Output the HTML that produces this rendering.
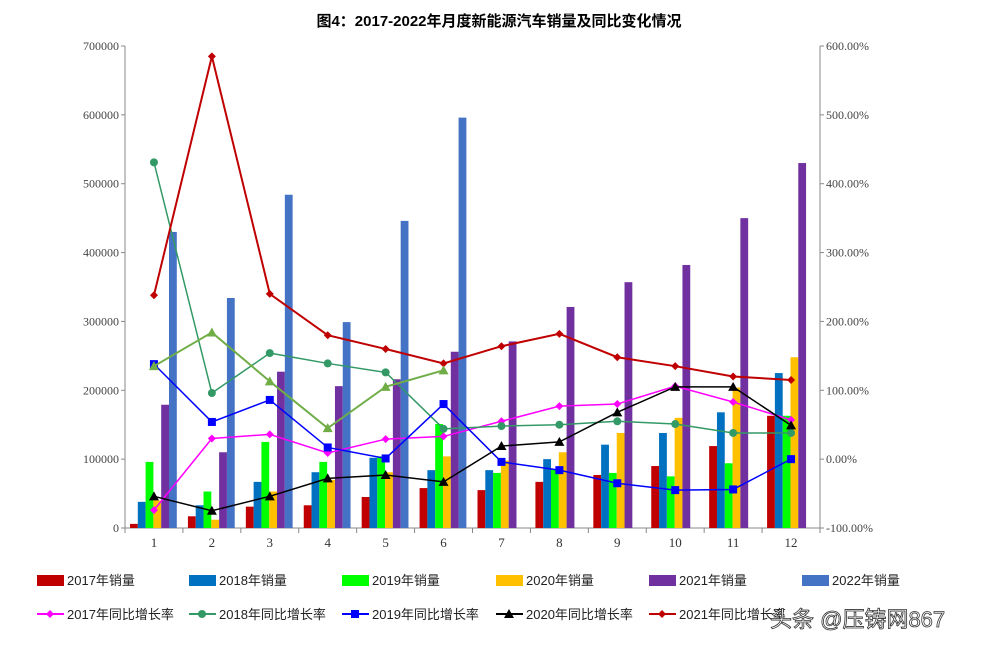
<!DOCTYPE html>
<html><head><meta charset="utf-8"><style>
body{margin:0;background:#fff;width:999px;height:650px;overflow:hidden;font-family:"Liberation Sans","Noto Sans CJK SC",sans-serif}
</style></head><body>
<svg id="c" width="999" height="650" xmlns="http://www.w3.org/2000/svg"></svg>
<script>
const months=[1,2,3,4,5,6,7,8,9,10,11,12];
const volYears=['2017年销量','2018年销量','2019年销量','2020年销量','2021年销量','2022年销量'];
const v2017=[6000,17000,31000,33000,45000,58000,55000,67000,77000,90000,119000,163000];
const v2018=[38000,33000,67000,81000,102000,84000,84000,100000,121000,138000,168000,225000];
const v2019=[96000,53000,125000,96000,104000,151000,80000,85000,80000,75000,94000,163000];
const v2020=[40000,12000,53000,70000,81000,104000,98000,110000,138000,160000,204000,248000];
const v2021=[179000,110000,227000,206000,216000,256000,271000,321000,357000,382000,450000,530000];
const v2022=[430000,334000,484000,299000,446000,596000];
const gNames=['2017年同比增长率','2018年同比增长率','2019年同比增长率','2020年同比增长率','2021年同比增长率'];
const g2017=[-74,30,36,9,29,33,55,77,80,106,83,57];
const g2018=[431,96,154,139,126,44,48,50,55,51,38,38];
const g2019=[138,54,86,17,1,80,-4,-16,-35,-45,-44,0];
const g2020=[-54,-75,-54,-28,-23,-33,19,25,68,105,105,49];
const g2021=[238,585,240,180,160,139,164,182,148,135,120,115];
const g2022=[135,184,113,45,105,129];
const leftTicks=[0,100000,200000,300000,400000,500000,600000,700000];
const rightTicks=[-100,0,100,200,300,400,500,600];

const svg=document.getElementById('c');const NS='http://www.w3.org/2000/svg';
function el(t,a,p){const e=document.createElementNS(NS,t);for(const k in a)e.setAttribute(k,a[k]);(p||svg).appendChild(e);return e;}
const X0=125,X1=820,Y0=528,Y1=46,cw=(X1-X0)/12;
const yL=v=>Y0-(v/700000)*(Y0-Y1);
const yR=p=>Y0-((p+100)/700)*(Y0-Y1);
const xC=i=>X0+cw*(i+0.5);

let t=el('text',{x:499,y:26,'text-anchor':'middle','font-size':15,'font-weight':'bold',fill:'#000'});t.textContent='图4：2017-2022年月度新能源汽车销量及同比变化情况';


el('line',{x1:X0,y1:Y1,x2:X0,y2:Y0,stroke:'#888'});
el('line',{x1:X1,y1:Y1,x2:X1,y2:Y0,stroke:'#888'});
el('line',{x1:X0,y1:Y0,x2:X1,y2:Y0,stroke:'#888'});
leftTicks.forEach(v=>{const y=yL(v);el('line',{x1:X0-4,y1:y,x2:X0,y2:y,stroke:'#888'});
 const tx=el('text',{x:X0-6,y:y+4,'text-anchor':'end','font-size':12,'font-family':'Liberation Serif, serif',fill:'#444'});tx.textContent=v;
 });
rightTicks.forEach(v=>{const y=yR(v);el('line',{x1:X1,y1:y,x2:X1+4,y2:y,stroke:'#888'});
 const tx=el('text',{x:X1+6,y:y+4,'font-size':12,'font-family':'Liberation Serif, serif',fill:'#444'});tx.textContent=v.toFixed(2)+'%';
 });
for(let i=0;i<=12;i++){const x=X0+cw*i;el('line',{x1:x,y1:Y0,x2:x,y2:Y0+5,stroke:'#888'});}
months.forEach((m,i)=>{const tx=el('text',{x:xC(i),y:Y0+19,'text-anchor':'middle','font-size':13,'font-family':'Liberation Serif, serif',fill:'#333'});tx.textContent=m;
 });

const vols=[v2017,v2018,v2019,v2020,v2021,v2022];
const vcol=['#c00000','#0070c0','#00ff00','#ffc000','#7030a0','#4472c4'];
const bw=7.8;
vols.forEach((arr,s)=>{arr.forEach((v,i)=>{const x=X0+cw*i+5+s*bw;
 const r=el('rect',{x:x,y:yL(v),width:bw,height:Y0-yL(v),fill:vcol[s]});
 });});

const gr=[g2017,g2018,g2019,g2020,g2021,g2022];
const gcol=['#ff00ff','#339966','#0000ff','#000000','#c00000','#70ad47'];
const gw=[1.5,1.5,1.5,1.5,2,2];
function marker(k,x,y,c){
 if(k==0)return el('path',{d:`M${x} ${y-4}L${x+4} ${y}L${x} ${y+4}L${x-4} ${y}Z`,fill:c});
 if(k==1)return el('circle',{cx:x,cy:y,r:4,fill:c});
 if(k==2)return el('rect',{x:x-4,y:y-4,width:8,height:8,fill:c});
 if(k==3||k==5)return el('path',{d:`M${x} ${y-5}L${x+5} ${y+4}L${x-5} ${y+4}Z`,fill:c});
 return el('path',{d:`M${x} ${y-4}L${x+4} ${y}L${x} ${y+4}L${x-4} ${y}Z`,fill:c});
}
gr.forEach((arr,s)=>{const pts=arr.map((v,i)=>xC(i)+','+yR(v)).join(' ');
 const l=el('polyline',{points:pts,fill:'none',stroke:gcol[s],'stroke-width':gw[s]});
 
 arr.forEach((v,i)=>{const m=marker(s,xC(i),yR(v),gcol[s]);
  });});

const lx=[37,189,342,496,649,802];
volYears.forEach((n,s)=>{const g=el('g',{});
 el('rect',{x:lx[s],y:575,width:27,height:11,fill:vcol[s]},g);
 const tx=el('text',{x:lx[s]+30,y:585,'font-size':13,fill:'#222'},g);tx.textContent=n;});
gNames.forEach((n,s)=>{const g=el('g',{});
 el('line',{x1:lx[s],y1:614,x2:lx[s]+27,y2:614,stroke:gcol[s],'stroke-width':2},g);
 g.appendChild(marker(s,lx[s]+13,614,gcol[s]));
 const tx=el('text',{x:lx[s]+30,y:619,'font-size':13,fill:'#222'},g);tx.textContent=n;});
const wm=el('text',{x:770,y:627,'font-size':22,fill:'#fff',stroke:'#333','stroke-width':0.8});wm.textContent='头条 @压铸网867';

</script>
</body></html>
